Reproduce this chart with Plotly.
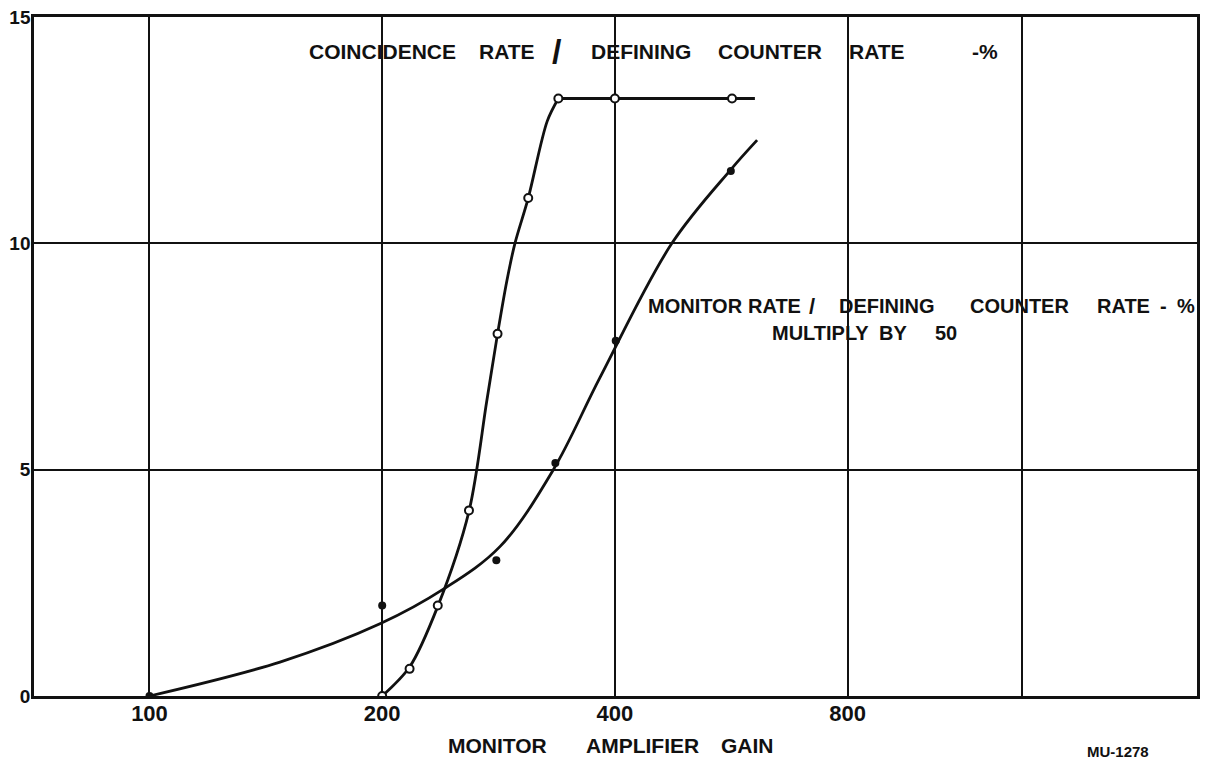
import plotly.graph_objects as go

# ---- data ----
coinc_gain = [200, 217, 236, 259, 282, 309, 338, 400, 567]
coinc_rate = [0.0, 0.6, 2.0, 4.1, 8.0, 11.0, 13.2, 13.2, 13.2]

coinc_fit_gain = [200, 217, 236, 259, 273, 282, 290, 297, 309, 327, 338]
coinc_fit_rate = [0.0, 0.64, 1.98, 4.08, 6.5, 8.0, 9.18, 10.0, 11.0, 12.7, 13.2]
plateau_gain = [338, 607]
plateau_rate = [13.2, 13.2]

monitor_gain = [100, 200, 281, 335, 401, 565]
monitor_rate = [0.0, 2.0, 3.0, 5.15, 7.85, 11.6]

monitor_fit_gain = [100, 147.5, 199, 240, 284, 333, 383, 474, 565, 611]
monitor_fit_rate = [0.0, 0.75, 1.6, 2.36, 3.3, 5.0, 7.05, 10.0, 11.63, 12.28]

x_tickvals = [100, 200, 400, 800, 1345]
x_ticktext = ["100", "200", "400", "800", ""]
y_tickvals = [0, 5, 10, 15]
y_ticktext = ["0", "5", "10", "15"]

# text pieces: (text, centre x in page pixels)
title_words = [("COINCIDENCE", 382), ("RATE", 507), ("/", 557), ("DEFINING", 641),
               ("COUNTER", 770), ("RATE", 877), ("-%", 985)]
monitor_words = [("MONITOR", 695), ("RATE", 774), ("/", 812), ("DEFINING", 887),
                 ("COUNTER", 1019), ("RATE", 1123), ("-", 1163), ("%", 1186)]
multiply_words = [("MULTIPLY", 820), ("BY", 893), ("50", 946)]
xtitle_words = [("MONITOR", 497), ("AMPLIFIER", 642), ("GAIN", 747)]

FONT = "Liberation Sans"
INK = "#111111"

fig = go.Figure()

fig.add_trace(go.Scatter(x=monitor_fit_gain, y=monitor_fit_rate, mode="lines",
                         line=dict(color=INK, width=2.8, shape="spline", smoothing=1.0),
                         hoverinfo="skip"))
fig.add_trace(go.Scatter(x=coinc_fit_gain, y=coinc_fit_rate, mode="lines",
                         line=dict(color=INK, width=2.8, shape="spline", smoothing=0.9),
                         hoverinfo="skip"))
fig.add_trace(go.Scatter(x=plateau_gain, y=plateau_rate, mode="lines",
                         line=dict(color=INK, width=2.8), hoverinfo="skip"))
fig.add_trace(go.Scatter(x=coinc_gain, y=coinc_rate, mode="markers",
                         marker=dict(symbol="circle", size=8, color="white",
                                     line=dict(width=2, color=INK))))
fig.add_trace(go.Scatter(x=monitor_gain, y=monitor_rate, mode="markers",
                         marker=dict(symbol="circle", size=8, color=INK)))

OFF = 8  # page body margin
W, H = 1202, 752
L, R, T, B = 26, 13, 9, 64
pw, ph = W - L - R, H - T - B


def px(x):
    return (x - OFF - L) / pw


def py(y):
    return (H - B - (y - OFF)) / ph


annotations = []


def add_words(words, y, size, slash_size=None):
    for w, cx in words:
        s = slash_size if (w == "/" and slash_size) else size
        annotations.append(dict(text=w, x=px(cx), y=py(y), font=dict(size=s)))


add_words(title_words, 51, 21, slash_size=34)
add_words(monitor_words, 306, 20, slash_size=22)
add_words(multiply_words, 333, 20)
add_words(xtitle_words, 745, 21)
annotations.append(dict(text="MU-1278", x=px(1118), y=py(751), font=dict(size=15)))

for a in annotations:
    a.update(xref="paper", yref="paper", showarrow=False, xanchor="center", yanchor="middle")
    a["font"].update(family=FONT, color=INK, weight="bold")

fig.update_layout(
    width=W, height=H,
    margin=dict(l=L, r=R, t=T, b=B, autoexpand=False),
    paper_bgcolor="white", plot_bgcolor="white",
    showlegend=False,
    annotations=annotations,
    xaxis=dict(type="log", range=[1.8506, 3.3551], tickvals=x_tickvals, ticktext=x_ticktext,
               automargin=False, ticklabeloverflow="allow",
               showgrid=True, gridcolor=INK, gridwidth=2, zeroline=False,
               showline=True, linecolor=INK, linewidth=2.5, mirror=True, ticks="", ticklen=0,
               ticklabelstandoff=-4,
               tickfont=dict(family=FONT, size=22, color=INK, weight="bold")),
    yaxis=dict(range=[0, 15], tickvals=y_tickvals, ticktext=y_ticktext,
               automargin=False, ticklabeloverflow="allow",
               showgrid=True, gridcolor=INK, gridwidth=2, zeroline=False,
               showline=True, linecolor=INK, linewidth=2.5, mirror=True, ticks="", ticklen=0,
               ticklabelstandoff=-3,
               tickfont=dict(family=FONT, size=19, color=INK, weight="bold")),
)

fig.write_html("out.html")
